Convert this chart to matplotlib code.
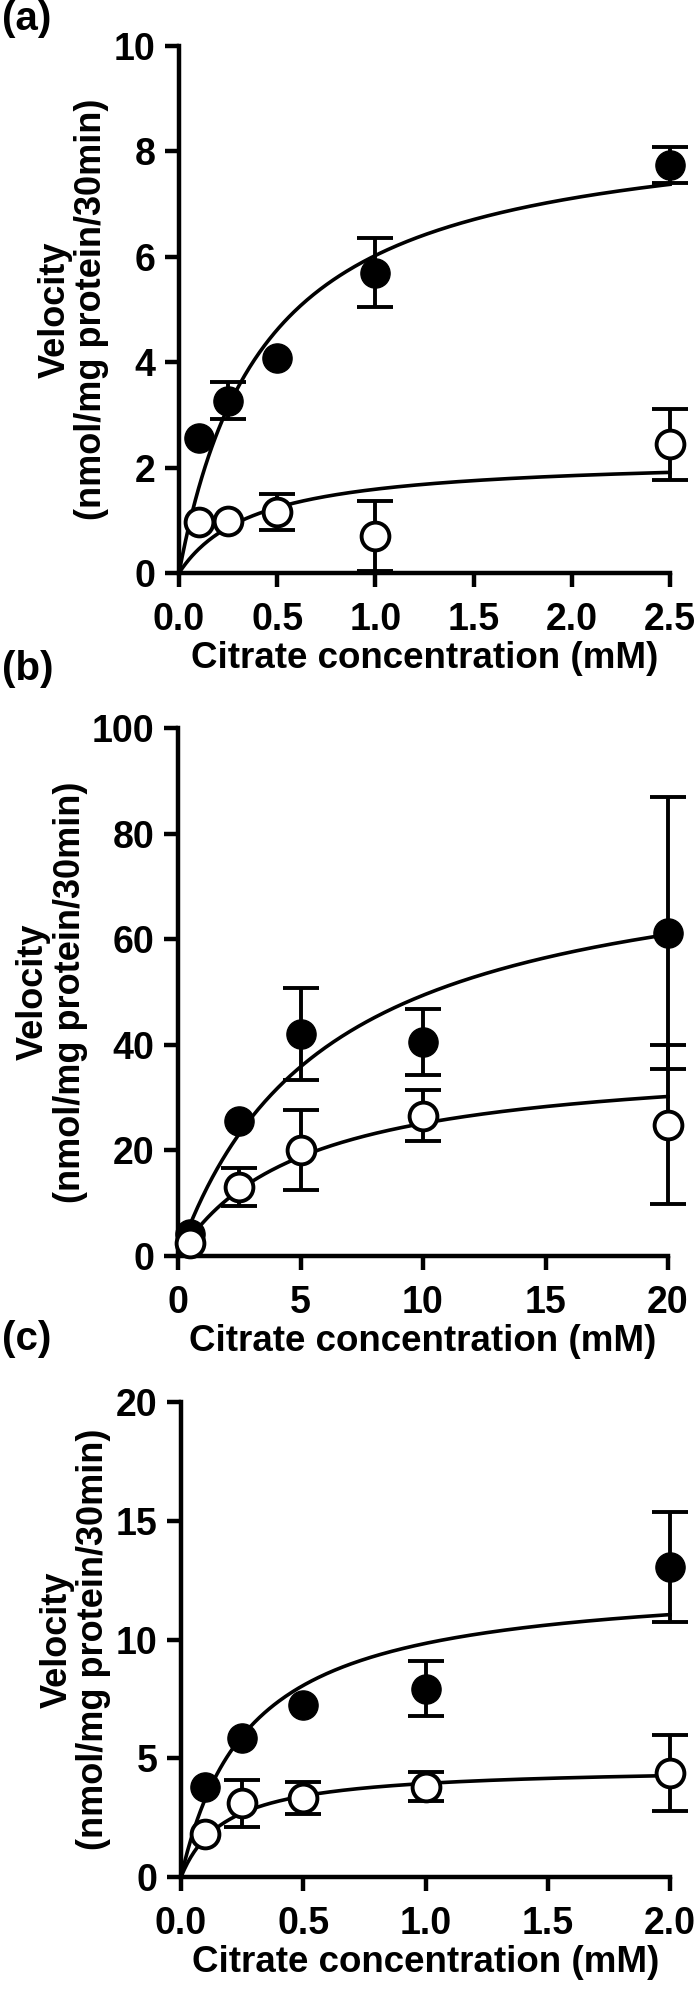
import numpy as np
import matplotlib
matplotlib.use('Agg')
import matplotlib.pyplot as plt

plt.rcParams['font.family'] = ['Liberation Sans', 'DejaVu Sans']
plt.rcParams['font.weight'] = 'bold'

# panel (a)
a_x = [0.1, 0.25, 0.5, 1.0, 2.5]
a_filled = [2.57, 3.27, 4.08, 5.70, 7.74]
a_filled_err = [0.0, 0.35, 0.0, 0.66, 0.34]
a_open = [0.97, 0.99, 1.15, 0.70, 2.44]
a_open_err = [0.0, 0.0, 0.34, 0.66, 0.68]
a_fit = [(8.67, 0.439), (2.205, 0.387)]   # (Vmax, Km) filled, open

# panel (b)
b_x = [0.5, 2.5, 5, 10, 20]
b_filled = [4.2, 25.5, 42.0, 40.5, 61.2]
b_filled_err = [0.0, 0.0, 8.7, 6.3, 25.7]
b_open = [2.5, 13.1, 20.1, 26.6, 24.9]
b_open_err = [0.0, 3.6, 7.6, 4.9, 15.0]
b_fit = [(79.4, 6.08), (37.9, 5.09)]

# panel (c)
c_x = [0.1, 0.25, 0.5, 1.0, 2.0]
c_filled = [3.81, 5.85, 7.24, 7.93, 13.05]
c_filled_err = [0.0, 0.0, 0.0, 1.15, 2.32]
c_open = [1.80, 3.10, 3.34, 3.81, 4.36]
c_open_err = [0.0, 0.98, 0.67, 0.62, 1.6]
c_fit = [(12.6, 0.281), (4.66, 0.183)]

panels = [
    ('(a)', a_x, a_filled, a_filled_err, a_open, a_open_err, a_fit,
     (0, 2.5), np.arange(0, 2.51, 0.5), '%.1f', (0, 10), [0, 2, 4, 6, 8, 10]),
    ('(b)', b_x, b_filled, b_filled_err, b_open, b_open_err, b_fit,
     (0, 20), [0, 5, 10, 15, 20], '%d', (0, 100), [0, 20, 40, 60, 80, 100]),
    ('(c)', c_x, c_filled, c_filled_err, c_open, c_open_err, c_fit,
     (0, 2.0), np.arange(0, 2.01, 0.5), '%.1f', (0, 20), [0, 5, 10, 15, 20]),
]

W, H = 695, 2012
# axes boxes in pixels: left, right, top, bottom
boxes = [(179, 670, 46, 573), (178, 668, 728, 1256), (181, 670, 1402, 1877)]
label_pos = [(2, 0), (2, 650), (2, 1320)]

fig = plt.figure(figsize=(W / 100, H / 100), dpi=100)


def with_err(x, y, e):
    # only points that carry an error bar
    keep = [i for i in range(len(x)) if e[i] > 0]
    return [x[i] for i in keep], [y[i] for i in keep], [e[i] for i in keep]


for (tag, x, yf, ef, yo, eo, fit, xlim, xt, fmt, ylim, yt), box, lp in zip(panels, boxes, label_pos):
    l, r, t, b = box
    ax = fig.add_axes([l / W, 1 - b / H, (r - l) / W, (b - t) / H])

    xx = np.linspace(0, xlim[1], 300)
    for vmax, km in fit:
        ax.plot(xx, vmax * xx / (km + xx), color='black', lw=2.6, zorder=2, clip_on=False)

    for ys, es in [(yf, ef), (yo, eo)]:
        ex, ey, ee = with_err(x, ys, es)
        ax.errorbar(ex, ey, yerr=ee, fmt='none', ecolor='black', elinewidth=2.8,
                    capsize=13, capthick=2.8, zorder=3, clip_on=False)
    ax.plot(x, yf, 'o', color='black', ms=21, zorder=4, clip_on=False)
    ax.plot(x, yo, 'o', mfc='white', mec='black', mew=2.8, ms=20, zorder=5, clip_on=False)

    ax.set_xlim(xlim)
    ax.set_ylim(ylim)
    ax.set_xticks(xt)
    ax.set_xticklabels([fmt % v for v in xt])
    ax.set_yticks(yt)

    for s in ['top', 'right']:
        ax.spines[s].set_visible(False)
    for s in ['left', 'bottom']:
        ax.spines[s].set_linewidth(3.2)
    ax.tick_params(axis='both', width=3.2, length=10, labelsize=27, pad=7)
    ax.tick_params(axis='x', pad=11)
    for lab in ax.get_xticklabels() + ax.get_yticklabels():
        lab.set_fontweight('bold')

    ax.set_xlabel('Citrate concentration (mM)', fontsize=26.5, fontweight='bold', labelpad=2)
    ax.set_ylabel('Velocity\n(nmol/mg protein/30min)', fontsize=26, fontweight='bold',
                  labelpad=3, linespacing=1.05)

    fig.text(lp[0] / W, 1 - lp[1] / H, tag, fontsize=29, fontweight='bold', va='top', ha='left')

fig.savefig('out.png', dpi=100)
